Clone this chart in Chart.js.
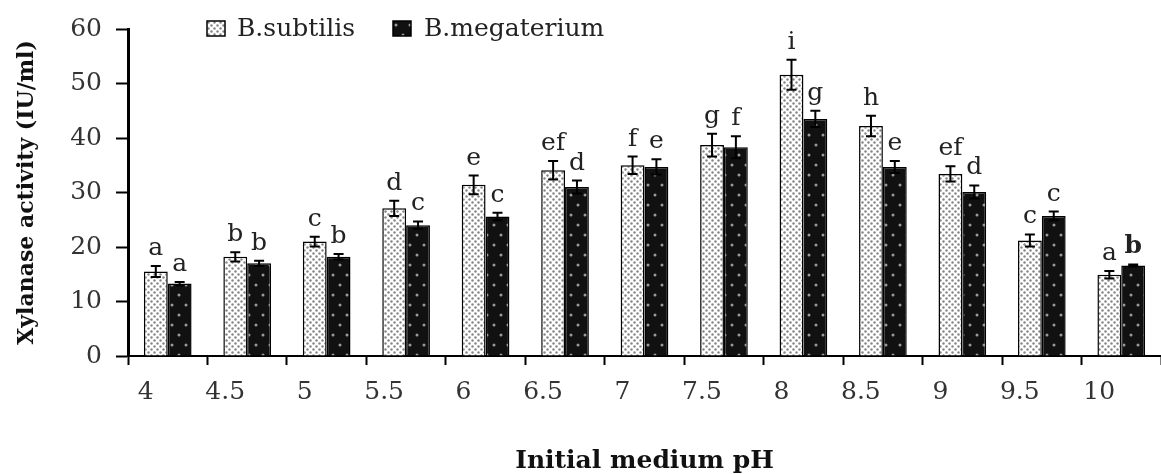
<!DOCTYPE html>
<html>
<head>
<meta charset="utf-8">
<script src="https://cdn.jsdelivr.net/npm/chart.js@4.4.0/dist/chart.umd.min.js"></script>
<style>
  html, body { margin: 0; padding: 0; background: #fff; }
  #wrap { width: 1161px; height: 474px; }
</style>
</head>
<body>
<div id="wrap"><canvas id="phChart" width="1161" height="474"></canvas></div>
<script>
// --- values
const phLabels = ['4', '4.5', '5', '5.5', '6', '6.5', '7', '7.5', '8', '8.5', '9', '9.5', '10'];

const subtilisMeans   = [15.5, 18.2, 21.0, 27.1, 31.4, 34.1, 35.0, 38.7, 51.6, 42.2, 33.4, 21.2, 14.9];
const subtilisErr     = [1.0, 0.85, 0.9, 1.4, 1.7, 1.7, 1.6, 2.1, 2.75, 1.9, 1.4, 1.1, 0.7];
const subtilisLetters = ['a', 'b', 'c', 'd', 'e', 'ef', 'f', 'g', 'i', 'h', 'ef', 'c', 'a'];

const megateriumMeans   = [13.3, 17.0, 18.2, 24.0, 25.6, 31.0, 34.7, 38.3, 43.5, 34.7, 30.1, 25.7, 16.6];
const megateriumErr     = [0.3, 0.5, 0.5, 0.7, 0.7, 1.2, 1.4, 2.0, 1.5, 1.1, 1.2, 0.8, 0.2];
const megateriumLetters = ['a', 'b', 'b', 'c', 'c', 'd', 'e', 'f', 'g', 'e', 'd', 'c', 'b'];

const yTicks = [0, 10, 20, 30, 40, 50, 60];

const FONT = '"DejaVu Serif", "Liberation Serif", serif';

const canvas = document.getElementById('phChart');
const ctx = canvas.getContext('2d');

function dot(g, x, y, r) {
  g.beginPath();
  g.arc(x, y, r, 0, Math.PI * 2);
  g.fill();
}

// dotted white fill for B.subtilis
function subtilisPattern() {
  const c = document.createElement('canvas');
  c.width = 6; c.height = 6;
  const g = c.getContext('2d');
  g.fillStyle = '#fff';
  g.fillRect(0, 0, 6, 6);
  g.fillStyle = '#858585';
  dot(g, 1.5, 1.5, 1.2);
  dot(g, 4.5, 4.5, 1.2);
  return ctx.createPattern(c, 'repeat');
}

// black fill with sparse grey dots for B.megaterium
function megateriumPattern() {
  const c = document.createElement('canvas');
  c.width = 14; c.height = 20;
  const g = c.getContext('2d');
  g.fillStyle = '#111';
  g.fillRect(0, 0, 14, 20);
  g.fillStyle = '#9a9a9a';
  dot(g, 4, 5, 1.5);
  dot(g, 11, 15, 1.5);
  return ctx.createPattern(c, 'repeat');
}

const subFill = subtilisPattern();
const megFill = megateriumPattern();

// error bars + significance letters
const errorBarPlugin = {
  id: 'errorBars',
  afterDatasetsDraw(chart) {
    const c = chart.ctx;
    const y = chart.scales.y;
    chart.data.datasets.forEach((ds, di) => {
      const meta = chart.getDatasetMeta(di);
      meta.data.forEach((bar, i) => {
        const v = ds.data[i];
        const e = ds.errors[i];
        const top = y.getPixelForValue(v + e);
        const bot = y.getPixelForValue(v - e);
        c.save();
        c.strokeStyle = '#000';
        c.lineWidth = 2;
        c.beginPath();
        c.moveTo(bar.x, top); c.lineTo(bar.x, bot);
        c.moveTo(bar.x - 5, top); c.lineTo(bar.x + 5, top);
        c.moveTo(bar.x - 5, bot); c.lineTo(bar.x + 5, bot);
        c.stroke();
        const bold = di === 1 && i === ds.data.length - 1;
        c.font = (bold ? 'bold ' : '') + '25px ' + FONT;
        c.fillStyle = '#222';
        c.textAlign = 'center';
        c.textBaseline = 'alphabetic';
        c.fillText(ds.letters[i], bar.x, top - 11);
        c.restore();
      });
    });
  }
};

// legend drawn across the top of the plot
const legendPlugin = {
  id: 'topLegend',
  afterDraw(chart) {
    const c = chart.ctx;
    const items = [
      { ds: chart.data.datasets[0], box: 207, text: 237 },
      { ds: chart.data.datasets[1], box: 393, text: 424 }
    ];
    c.save();
    items.forEach(it => {
      c.fillStyle = it.ds.backgroundColor;
      c.fillRect(it.box, 21, 18, 15);
      c.strokeStyle = '#000';
      c.lineWidth = 1.5;
      c.strokeRect(it.box, 21, 18, 15);
      c.fillStyle = '#222';
      c.font = '25px ' + FONT;
      c.textBaseline = 'middle';
      c.textAlign = 'left';
      c.fillText(it.ds.label, it.text, 29);
    });
    c.restore();
  }
};

new Chart(canvas, {
  type: 'bar',
  data: {
    labels: phLabels,
    datasets: [
      {
        label: 'B.subtilis',
        data: subtilisMeans,
        errors: subtilisErr,
        letters: subtilisLetters,
        backgroundColor: subFill,
        borderColor: '#000',
        borderWidth: 1.5,
        borderSkipped: 'bottom'
      },
      {
        label: 'B.megaterium',
        data: megateriumMeans,
        errors: megateriumErr,
        letters: megateriumLetters,
        backgroundColor: megFill,
        borderColor: '#000',
        borderWidth: 1.5,
        borderSkipped: 'bottom'
      }
    ]
  },
  options: {
    responsive: false,
    animation: false,
    devicePixelRatio: 1,
    layout: { padding: { top: 29, right: 0, left: 0, bottom: 0 } },
    datasets: {
      bar: { categoryPercentage: 0.6, barPercentage: 1.0 }
    },
    plugins: {
      legend: { display: false },
      tooltip: { enabled: false }
    },
    scales: {
      x: {
        grid: {
          offset: true,
          drawOnChartArea: false,
          tickLength: 9,
          tickWidth: 2,
          color: '#000'
        },
        border: { color: '#000', width: 2 },
        ticks: {
          font: { family: FONT, size: 25 },
          color: '#333',
          padding: 12,
          labelOffset: -22
        },
        title: {
          display: true,
          text: 'Initial medium pH',
          font: { family: FONT, size: 25, weight: 'bold', lineHeight: 1 },
          color: '#111',
          padding: { top: 0, bottom: 0 }
        },
        afterFit(scale) { scale.height = 118; }
      },
      y: {
        min: 0,
        max: 60,
        afterBuildTicks(scale) { scale.ticks = yTicks.map(v => ({ value: v })); },
        grid: {
          drawOnChartArea: false,
          tickLength: 12,
          tickWidth: 2,
          color: '#000'
        },
        border: { color: '#000', width: 3 },
        ticks: {
          font: { family: FONT, size: 25 },
          color: '#333',
          padding: 14
        },
        title: {
          display: true,
          text: 'Xylanase activity (IU/ml)',
          font: { family: FONT, size: 22, weight: 'bold', lineHeight: 1.2 },
          color: '#111',
          padding: { top: 14, bottom: 0 }
        },
        afterFit(scale) { scale.width = 128; }
      }
    }
  },
  plugins: [errorBarPlugin, legendPlugin]
});
</script>
</body>
</html>
